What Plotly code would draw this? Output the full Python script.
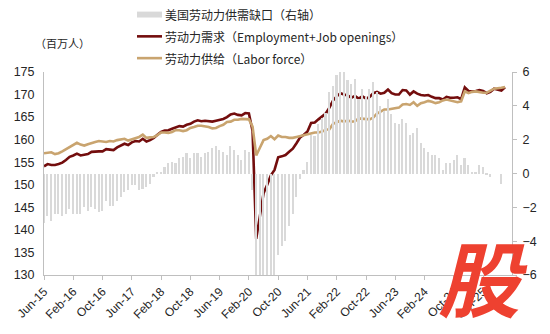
import pandas as pd
import plotly.graph_objects as go

# Monthly observations, Jun-2015 .. Dec-2025 (millions of people)
months = pd.date_range("2015-06-01", "2025-12-01", freq="MS")

labor_supply = [
    157.0, 157.1, 157.2, 156.8, 157.0, 157.4, 157.9,
    158.3, 158.9, 159.3, 158.9, 158.7, 159.0, 159.3, 159.5, 159.7, 159.6, 159.5, 159.7,
    159.6, 159.9, 160.1, 160.2, 159.8, 160.1, 160.4, 160.6, 161.1, 160.4, 160.5, 160.6,
    161.0, 161.6, 161.6, 161.5, 161.7, 162.1, 162.1, 161.9, 162.1, 162.6, 162.8, 163.1,
    163.1, 163.0, 162.8, 162.5, 162.6, 163.0, 163.3, 163.9, 164.0, 164.4, 164.4, 164.6,
    164.5, 164.5, 162.9, 156.5, 158.2, 159.9, 160.2, 160.8, 160.1, 160.9, 160.6, 160.6,
    160.4, 160.4, 160.6, 160.8, 160.9, 161.1, 161.4, 161.6, 161.6, 161.8, 162.2, 162.3,
    163.5, 163.8, 164.2, 164.0, 164.3, 164.0, 164.1, 164.7, 164.6, 164.6, 164.5, 164.9,
    165.8, 166.2, 166.7, 166.7, 166.8, 167.0, 167.1, 167.8, 167.9, 167.7, 168.3, 167.5,
    168.1, 168.3, 168.6, 168.4, 168.1, 168.3, 168.7, 168.9, 168.7, 168.5, 168.3, 168.5,
    170.7, 170.3, 170.6, 170.7, 170.5, 170.4, 170.4, 170.8, 171.3, None, 171.5, 171.7,
]

labor_demand = [
    154.1, 154.6, 154.4, 154.4, 154.6, 154.9, 155.5,
    156.2, 156.5, 156.9, 156.5, 156.7, 156.8, 157.3, 157.4, 157.4, 157.4, 157.9, 157.8,
    157.7, 158.3, 158.7, 159.1, 158.8, 159.4, 159.7, 159.6, 160.2, 159.6, 159.9, 160.4,
    161.1, 161.7, 162.0, 162.1, 162.4, 162.7, 163.0, 162.9, 163.3, 163.5, 164.0, 164.3,
    164.1, 164.2, 164.1, 164.0, 164.2, 164.4, 164.6, 165.0, 165.6, 165.8, 165.5, 165.4,
    165.9, 165.8, 161.9, 138.0, 142.6, 148.1, 150.0, 152.1, 153.3, 156.1, 156.3, 156.6,
    157.3, 158.0, 159.2, 160.5, 161.1, 161.8, 163.7, 163.8, 164.5, 165.1, 165.8, 167.1,
    168.7, 169.6, 170.3, 170.0, 169.8, 169.3, 169.7, 169.1, 169.6, 169.1, 169.5, 170.3,
    170.6, 170.2, 170.4, 171.1, 170.3, 170.0, 170.0, 171.0, 170.9, 170.0, 170.7, 170.2,
    169.9, 169.8, 169.9, 169.5, 169.2, 169.2, 168.9, 169.5, 169.3, 169.3, 169.4, 169.0,
    171.6, 170.8, 170.7, 170.8, 171.0, 170.8, 170.3, 170.6, 171.3, None, 170.9, 171.6,
]

# Demand minus supply, plotted on the right axis
supply_demand_gap = [
    -2.9, -2.5, -2.8, -2.4, -2.4, -2.5, -2.4,
    -2.1, -2.4, -2.4, -2.4, -2.0, -2.2, -2.0, -2.1, -2.3, -2.2, -1.6, -1.9,
    -1.9, -1.6, -1.4, -1.1, -1.0, -0.7, -0.7, -1.0, -0.9, -0.8, -0.6, -0.2,
    0.1, 0.1, 0.4, 0.6, 0.7, 0.6, 0.9, 1.0, 1.2, 0.9, 1.2, 1.2,
    1.0, 1.2, 1.3, 1.5, 1.6, 1.4, 1.3, 1.1, 1.6, 1.4, 1.1, 0.8,
    1.4, 1.3, -1.0, -18.5, -15.6, -11.8, -10.2, -8.7, -6.8, -4.8, -4.3, -4.0,
    -3.1, -2.4, -1.4, -0.3, 0.2, 0.7, 2.3, 2.2, 2.9, 3.3, 3.6, 4.8,
    5.2, 5.8, 6.1, 6.0, 5.5, 5.3, 5.6, 4.4, 5.0, 4.5, 5.0, 5.4,
    4.8, 4.0, 3.7, 4.4, 3.5, 3.0, 2.9, 3.2, 3.0, 2.3, 2.4, 2.7,
    1.8, 1.5, 1.3, 1.1, 1.1, 0.9, 0.2, 0.6, 0.6, 0.8, 1.1, 0.5,
    0.9, 0.5, 0.1, 0.1, 0.5, 0.4, -0.1, -0.2, 0.0, None, -0.6, None,
]

tick_step = 8
tick_labels = ["Jun-15", "Feb-16", "Oct-16", "Jun-17", "Feb-18", "Oct-18", "Jun-19", "Feb-20",
               "Oct-20", "Jun-21", "Feb-22", "Oct-22", "Jun-23", "Feb-24", "Oct-24", "Jun-25"]

x = list(range(len(months)))

GAP_COLOR = "#D9D9D9"
DEMAND_COLOR = "#730D0D"
SUPPLY_COLOR = "#C9A46F"
AXIS_COLOR = "#BFBFBF"
TEXT_COLOR = "#262626"
LATIN = "Liberation Sans, Arial, sans-serif"
CJK = "Noto Sans CJK SC, Liberation Sans, sans-serif"

fig = go.Figure()
fig.add_trace(go.Bar(x=x, y=supply_demand_gap, yaxis="y2", marker_color=GAP_COLOR,
                     marker_line_width=0, width=0.45, name="美国劳动力供需缺口（右轴）"))
fig.add_trace(go.Scatter(x=x, y=labor_demand, mode="lines", connectgaps=True,
                         line=dict(color=DEMAND_COLOR, width=2.6),
                         name="劳动力需求（Employment+Job openings）"))
fig.add_trace(go.Scatter(x=x, y=labor_supply, mode="lines", connectgaps=True,
                         line=dict(color=SUPPLY_COLOR, width=2.6),
                         name="劳动力供给（Labor force）"))

fig.update_layout(
    width=550, height=334,
    margin=dict(l=44, r=38, t=72, b=57, pad=0),
    paper_bgcolor="white", plot_bgcolor="white",
    showlegend=False,
    bargap=0,
    font=dict(family=LATIN, size=12, color=TEXT_COLOR),
    xaxis=dict(
        range=[0, 127.9],
        tickmode="array",
        tickvals=[i * tick_step for i in range(len(tick_labels))],
        ticktext=tick_labels,
        tickangle=-45,
        ticks="outside", ticklen=4, tickcolor=AXIS_COLOR,
        showline=True, linecolor=AXIS_COLOR, linewidth=1,
        showgrid=False, zeroline=False,
        tickfont=dict(size=12, family=LATIN, color=TEXT_COLOR),
    ),
    yaxis=dict(
        range=[130, 175], dtick=5,
        showline=True, linecolor=AXIS_COLOR, linewidth=1,
        showgrid=False, zeroline=False, ticks="",
        ticklabelstandoff=6,
        tickfont=dict(size=12.5, family=LATIN, color=TEXT_COLOR),
    ),
    yaxis2=dict(
        range=[-6, 6], dtick=2, overlaying="y", side="right",
        showline=True, linecolor=AXIS_COLOR, linewidth=1,
        showgrid=False, zeroline=False,
        ticks="outside", ticklen=4, tickcolor=AXIS_COLOR,
        ticklabelstandoff=3,
        tickfont=dict(size=12.5, family=LATIN, color=TEXT_COLOR),
    ),
)

# Legend drawn by hand (pixel-placed swatches + labels)
def px_x(px):
    return (px - 44) / 468

def px_y(py):
    return (277 - py) / 205

legend_rows = [
    (14, "bar", GAP_COLOR, "美国劳动力供需缺口（右轴）"),
    (36, "line", DEMAND_COLOR, "劳动力需求（Employment+Job openings）"),
    (58, "line", SUPPLY_COLOR, "劳动力供给（Labor force）"),
]
for py, kind, color, label in legend_rows:
    if kind == "bar":
        fig.add_shape(type="rect", xref="paper", yref="paper",
                      x0=px_x(137), x1=px_x(162), y0=px_y(py + 3), y1=px_y(py - 3),
                      fillcolor=color, line_width=0)
    else:
        fig.add_shape(type="line", xref="paper", yref="paper",
                      x0=px_x(137), x1=px_x(162), y0=px_y(py), y1=px_y(py),
                      line=dict(color=color, width=2.6))
    fig.add_annotation(x=px_x(163), y=px_y(py), xref="paper", yref="paper",
                       text=label, showarrow=False, xanchor="left", yanchor="middle",
                       font=dict(family=CJK, size=12, color=TEXT_COLOR))

fig.add_annotation(x=px_x(33), y=px_y(43), xref="paper", yref="paper",
                   text="（百万人）", showarrow=False, xanchor="left", yanchor="middle",
                   font=dict(family=CJK, size=11, color=TEXT_COLOR))

# Site mark in the lower-right corner
fig.add_annotation(x=px_x(483), y=px_y(278), xref="paper", yref="paper",
                   text="<b><i>股</i></b>", showarrow=False, xanchor="center", yanchor="middle",
                   font=dict(family=CJK, size=82, color="#EE4130"))

fig.write_html("out.html")
